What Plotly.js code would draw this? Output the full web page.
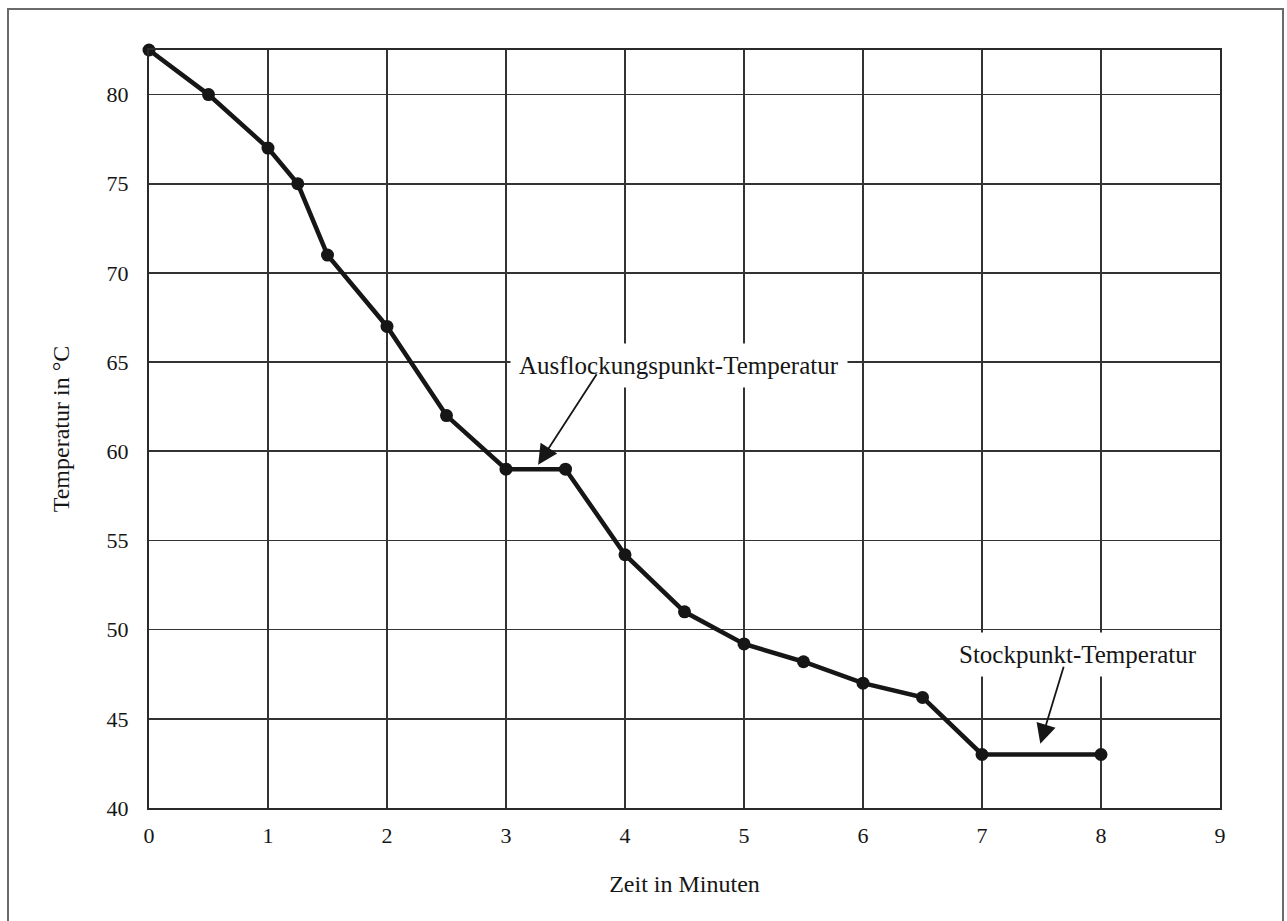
<!DOCTYPE html>
<html>
<head>
<meta charset="utf-8">
<script src="https://cdn.plot.ly/plotly-3.0.1.min.js"></script>
<style>
  html, body { margin: 0; padding: 0; background: #ffffff; }
  #chart { width: 1287px; height: 921px; position: absolute; left: 0; top: 0; }
  #frame { position: absolute; left: 7px; top: 8px; width: 1273px; height: 940px;
           border: 2px solid #6a6a6a; pointer-events: none; }
</style>
</head>
<body>
<div id="chart"></div>
<div id="frame"></div>
<script>
// Zeit in Minuten
const timeMin = [0, 0.5, 1, 1.25, 1.5, 2, 2.5, 3, 3.5, 4, 4.5, 5, 5.5, 6, 6.5, 7, 8];
// Temperatur in °C
const tempC = [82.5, 80, 77, 75, 71, 67, 62, 59, 59, 54.2, 51, 49.2, 48.2, 47, 46.2, 43, 43];

const xTickVals = [0, 1, 2, 3, 4, 5, 6, 7, 8, 9];
const yTickVals = [40, 45, 50, 55, 60, 65, 70, 75, 80];

const labelTexts = ["Ausflockungspunkt-Temperatur", "Stockpunkt-Temperatur"];
const labelX = [4.45, 7.81];
const labelY = [64.8, 48.6];
const arrowHeadX = [3.27, 7.49];
const arrowHeadY = [59.25, 43.6];
const arrowTailX = [3.77, 7.69];
const arrowTailY = [64.4, 48.0];

const FONT = "'Liberation Serif', 'Times New Roman', serif";
const INK = "#161616";

const trace = {
  x: timeMin,
  y: tempC,
  type: "scatter",
  mode: "lines+markers",
  line: { color: INK, width: 4.5 },
  marker: { color: INK, size: 13, symbol: "circle" },
  cliponaxis: false,
  showlegend: false,
  hoverinfo: "x+y"
};

const annotations = [];
labelTexts.forEach((t, i) => {
  annotations.push({
    x: labelX[i], y: labelY[i], xref: "x", yref: "y",
    text: t, showarrow: false,
    font: { family: FONT, size: 25, color: INK },
    bgcolor: "#ffffff", borderpad: 8,
    xanchor: "center", yanchor: "middle"
  });
});
labelTexts.forEach((t, i) => {
  annotations.push({
    x: arrowHeadX[i], y: arrowHeadY[i], xref: "x", yref: "y",
    ax: arrowTailX[i], ay: arrowTailY[i], axref: "x", ayref: "y",
    text: "", showarrow: true,
    arrowhead: 2, arrowsize: 2.2, arrowwidth: 1.8, arrowcolor: INK,
    standoff: 0, startstandoff: 0
  });
});

const layout = {
  width: 1287,
  height: 921,
  margin: { l: 149, r: 67, t: 50, b: 113, pad: 0 },
  paper_bgcolor: "#ffffff",
  plot_bgcolor: "#ffffff",
  font: { family: FONT, color: INK },
  showlegend: false,
  xaxis: {
    range: [0, 9],
    tickmode: "array",
    tickvals: xTickVals,
    ticktext: xTickVals.map(String),
    ticks: "",
    ticklabelstandoff: 7,
    tickfont: { family: FONT, size: 22, color: INK },
    showgrid: true, gridcolor: "#333333", gridwidth: 1.6,
    zeroline: false,
    showline: true, mirror: true, linecolor: "#2a2a2a", linewidth: 2,
    title: { text: "Zeit in Minuten", font: { family: FONT, size: 24, color: INK }, standoff: 28 },
    automargin: false,
    fixedrange: true
  },
  yaxis: {
    range: [40, 82.5],
    tickmode: "array",
    tickvals: yTickVals,
    ticktext: yTickVals.map(String),
    ticks: "",
    ticklabelstandoff: 14,
    tickfont: { family: FONT, size: 22, color: INK },
    showgrid: true, gridcolor: "#333333", gridwidth: 1.6,
    zeroline: false,
    showline: true, mirror: true, linecolor: "#2a2a2a", linewidth: 2,
    title: { text: "Temperatur in °C", font: { family: FONT, size: 24, color: INK }, standoff: 30 },
    automargin: false,
    fixedrange: true
  },
  annotations: annotations
};

Plotly.newPlot("chart", [trace], layout, { staticPlot: true, displayModeBar: false });
</script>
</body>
</html>
